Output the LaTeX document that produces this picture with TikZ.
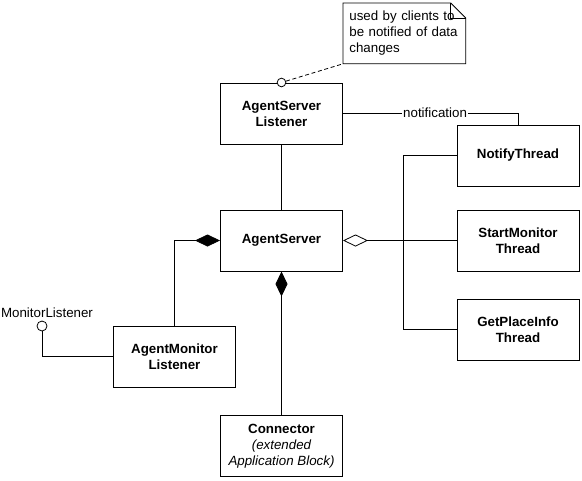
\documentclass[tikz,border=0pt]{standalone}
\usepackage{fontspec}
\setmainfont{Liberation Sans}
\usetikzlibrary{arrows.meta,calc}
\begin{document}
\begin{tikzpicture}[x=0.75pt,y=-0.75pt,
  line width=0.6pt,
  cls/.style={draw, line width=0.75pt, fill=white, minimum width=91.5pt, minimum height=45.75pt, align=center, font=\bfseries\fontsize{10}{12}\selectfont, inner sep=1pt},
  lbl/.style={font=\fontsize{10}{12}\selectfont, inner sep=1pt},
  lolli/.style={circle, draw, fill=white, inner sep=0pt, minimum size=6.5pt},
  comp/.style={{Diamond[length=18.75pt,width=9pt]}-},
  aggr/.style={{Diamond[open,length=18.75pt,width=9pt]}-}
]
\useasboundingbox (0,0) rectangle (582,480);
% boxes
\node[cls] (asl) at (281.5,113.5) {AgentServer\\Listener};
\node[cls] (as) at (281.5,240.5) {AgentServer};
\node[cls] (nt) at (518,155.5) {NotifyThread};
\node[cls] (smt) at (518,240.5) {StartMonitor\\Thread};
\node[cls] (gpi) at (518,329.5) {GetPlaceInfo\\Thread};
\node[cls] (aml) at (174.5,356.5) {AgentMonitor\\Listener};
\node[cls] (con) at (281.5,446) {Connector\\{\normalfont\itshape (extended}\\{\normalfont\itshape Application Block)}};
% note
\node[lbl, minimum width=91.5pt, minimum height=45pt, anchor=north west, inner sep=0pt] (note) at (343,3) {};
\node[lbl, anchor=north west, align=left, inner sep=0pt, text width=90pt] (notetext) at (349,10) {used by clients to\\be notified of data\\changes};
\draw (note.south west) -- (note.north west) -- ($(note.north east)+(-15,0)$) -- ($(note.north east)+(0,15)$) -- (note.south east) -- cycle;
\draw ($(note.north east)+(-15,0)$) -- ($(note.north east)+(-15,15)$) -- ($(note.north east)+(0,15)$);
% lollipop on AgentServer Listener
\node[lolli] (lp) at (asl.north) {};
\draw[dashed, dash pattern=on 3pt off 2pt] (lp) -- (note.south west);
% connectors
\draw (asl.south) -- (as.north);
\draw (asl.east |- 0,113) -| node[lbl, fill=white, pos=0.263] (nl) {notification} (nt.north);
\draw[comp] (as.west) -| (aml.north);
\draw[comp] (as.south) -- (con.north);
\draw[aggr] (as.east) -- (smt.west);
\coordinate (bus) at (403,0);
\draw (nt.west) -| (bus |- gpi.west) -- (gpi.west);
% MonitorListener interface
\node[lolli, minimum size=7.5pt] (ml) at (42,326) {};
\node[lbl, anchor=south] (mltext) at (47,319) {MonitorListener};
\draw (ml.south) |- (aml.west);
\end{tikzpicture}
\end{document}
